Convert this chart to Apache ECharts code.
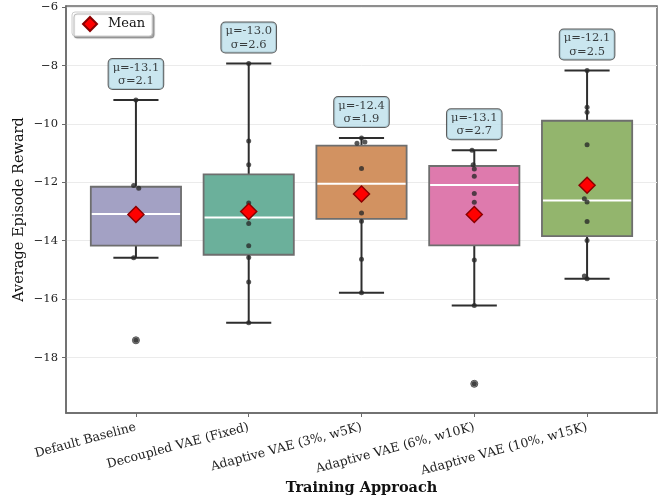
<!DOCTYPE html>
<html>
<head>
<meta charset="utf-8">
<script src="https://cdn.jsdelivr.net/npm/echarts@6/dist/echarts.min.js"></script>
<style>
  html, body { margin: 0; padding: 0; background: #ffffff; }
  #chart { width: 665px; height: 501px; }
</style>
</head>
<body>
<div id="chart"></div>
<script>
// Training approaches compared
const categories = [
  'Default Baseline',
  'Decoupled VAE (Fixed)',
  'Adaptive VAE (3%, w5K)',
  'Adaptive VAE (6%, w10K)',
  'Adaptive VAE (10%, w15K)'
];

// Box statistics per approach
const whiskerLow  = [-14.58, -16.81, -15.78, -16.22, -15.30];
const quartile1   = [-14.17, -14.48, -13.25, -14.16, -13.84];
const medians     = [-13.08, -13.20, -12.05, -12.09, -12.62];
const quartile3   = [-12.15, -11.73, -10.74, -11.44, -9.89];
const whiskerHigh = [-9.18, -7.93, -10.48, -10.90, -8.17];

// Mean / std summary per approach
const means = [-13.1, -13.0, -12.4, -13.1, -12.1];
const stds  = [2.1, 2.6, 1.9, 2.7, 2.5];

// Outliers beyond the whiskers: [approach index, reward]
const outliers = [[0, -17.41], [3, -18.90]];

// Individual run rewards per approach
const runsBaseline  = [-9.18, -12.11, -12.20, -14.58, -17.41];
const runsDecoupled = [-7.93, -10.58, -11.40, -12.71, -13.41, -14.17, -14.57, -15.41, -16.81];
const runsAdapt3    = [-10.48, -10.66, -10.62, -11.53, -13.05, -13.33, -14.63, -15.78];
const runsAdapt6    = [-10.90, -11.40, -11.54, -11.79, -12.38, -12.68, -14.66, -16.22, -18.90];
const runsAdapt10   = [-8.17, -9.43, -9.60, -10.71, -12.56, -12.67, -13.34, -13.99, -15.21, -15.30];
const runs = [runsBaseline, runsDecoupled, runsAdapt3, runsAdapt6, runsAdapt10];

// Horizontal strip jitter (category units), parallel to the run arrays
const jitter = [
  [0, -0.02, 0.025, -0.02, 0],
  [0, 0, 0, 0, 0, 0, 0, 0, 0],
  [0, -0.04, 0.03, 0, 0, 0, 0, 0],
  [-0.02, -0.01, 0, 0, 0, 0, 0, 0, 0],
  [0, 0, 0, 0, -0.024, 0, 0, 0, -0.024, 0]
];

// Y-axis tick values
const yTicks = [-18, -16, -14, -12, -10, -8, -6];

const boxColors = ['#a3a1c4', '#6bb09b', '#d29261', '#de7aad', '#93b56d'];
const FONT = 'DejaVu Serif';
const catIdx = categories.map((_, i) => i);

const boxData = categories.map((_, i) =>
  [i, whiskerLow[i], quartile1[i], medians[i], quartile3[i], whiskerHigh[i]]);

const stripData = [];
runs.forEach((arr, i) => arr.forEach((v, k) => stripData.push([i + jitter[i][k], v])));

const fmtMinus = v => (v < 0 ? '\u2212' + Math.abs(v) : String(v));

const chart = echarts.init(document.getElementById('chart'), null, { renderer: 'canvas' });

chart.setOption({
  animation: false,
  backgroundColor: '#ffffff',
  textStyle: { fontFamily: FONT },
  grid: {
    left: 66, right: 8, top: 6, bottom: 87,
    show: true, borderColor: '#6a6a6a', borderWidth: 1.5, backgroundColor: 'transparent'
  },
  legend: {
    left: 72, top: 12,
    padding: [4, 7, 4, 10],
    backgroundColor: '#ffffff',
    borderColor: '#cccccc', borderWidth: 1, borderRadius: 3,
    shadowColor: 'rgba(0,0,0,0.35)', shadowOffsetX: 2, shadowOffsetY: 2, shadowBlur: 1,
    itemWidth: 14, itemHeight: 14,
    textStyle: { fontFamily: FONT, fontSize: 13, color: '#111', padding: [0, 0, 0, 6] },
    data: [{ name: 'Mean', icon: 'diamond' }]
  },
  xAxis: {
    type: 'value',
    min: -0.62, max: 4.62,
    name: 'Training Approach',
    nameLocation: 'middle',
    nameGap: 68,
    nameMoveOverlap: false,
    nameTextStyle: { fontFamily: FONT, fontSize: 14.5, fontWeight: 'bold', color: '#111' },
    axisLine: { show: true, onZero: false, lineStyle: { color: '#6a6a6a', width: 1.5 } },
    axisTick: { show: true, length: 4, customValues: catIdx, lineStyle: { color: '#6a6a6a' } },
    axisLabel: {
      customValues: catIdx,
      rotate: 15,
      margin: 14,
      fontFamily: FONT, fontSize: 12.5, color: '#222',
      formatter: v => categories[Math.round(v)]
    },
    splitLine: { show: false }
  },
  yAxis: {
    type: 'value',
    min: -19.9, max: -5.96,
    name: 'Average Episode Reward',
    nameLocation: 'middle',
    nameGap: 39,
    nameMoveOverlap: false,
    nameTextStyle: { fontFamily: FONT, fontSize: 14.5, color: '#111' },
    axisLine: { show: true, onZero: false, lineStyle: { color: '#6a6a6a', width: 1.5 } },
    axisTick: { show: true, length: 4, customValues: yTicks, lineStyle: { color: '#6a6a6a' } },
    axisLabel: {
      customValues: yTicks,
      margin: 8,
      fontFamily: FONT, fontSize: 11.5, color: '#222',
      formatter: fmtMinus
    },
    splitLine: { show: true, lineStyle: { color: '#ebebeb', width: 1 } }
  },
  series: [
    {
      // Box, whiskers, caps and median for each approach
      type: 'custom',
      z: 2,
      data: boxData,
      encode: { x: 0, y: [1, 2, 3, 4, 5] },
      renderItem: (params, api) => {
        const x = api.value(0);
        const lo = api.coord([x, api.value(1)]);
        const b1 = api.coord([x, api.value(2)]);
        const md = api.coord([x, api.value(3)]);
        const b3 = api.coord([x, api.value(4)]);
        const hi = api.coord([x, api.value(5)]);
        const half = api.size([0.4, 0])[0];
        const cap = api.size([0.2, 0])[0];
        const cx = lo[0];
        const wStyle = { stroke: '#2e2e2e', lineWidth: 2 };
        return {
          type: 'group',
          children: [
            { type: 'line', shape: { x1: cx, y1: hi[1], x2: cx, y2: b3[1] }, style: wStyle },
            { type: 'line', shape: { x1: cx, y1: b1[1], x2: cx, y2: lo[1] }, style: wStyle },
            { type: 'line', shape: { x1: cx - cap, y1: hi[1], x2: cx + cap, y2: hi[1] }, style: wStyle },
            { type: 'line', shape: { x1: cx - cap, y1: lo[1], x2: cx + cap, y2: lo[1] }, style: wStyle },
            {
              type: 'rect',
              shape: { x: cx - half, y: b3[1], width: half * 2, height: b1[1] - b3[1] },
              style: { fill: boxColors[params.dataIndex], stroke: '#6e6e6e', lineWidth: 1.8 }
            },
            {
              type: 'line',
              shape: { x1: cx - half + 1, y1: md[1], x2: cx + half - 1, y2: md[1] },
              style: { stroke: '#ffffff', lineWidth: 2 }
            }
          ]
        };
      }
    },
    {
      // Flier markers
      type: 'scatter',
      z: 3,
      data: outliers,
      symbol: 'circle',
      symbolSize: 7,
      itemStyle: { color: '#9a9a9a', borderColor: '#555555', borderWidth: 1, opacity: 1 },
      silent: true
    },
    {
      // Individual runs
      type: 'scatter',
      z: 4,
      data: stripData,
      symbol: 'circle',
      symbolSize: 5,
      itemStyle: { color: 'rgba(40,40,40,0.78)', opacity: 1 },
      silent: true
    },
    {
      name: 'Mean',
      type: 'scatter',
      z: 5,
      data: categories.map((_, i) => [i, means[i]]),
      symbol: 'diamond',
      symbolSize: 16,
      itemStyle: { color: '#ff0000', borderColor: '#8b0000', borderWidth: 1.5, opacity: 1 }
    },
    {
      // Mean / std annotation above each upper whisker
      type: 'scatter',
      z: 6,
      data: categories.map((_, i) => [i, whiskerHigh[i]]),
      symbolSize: 0,
      silent: true,
      label: {
        show: true,
        position: 'top',
        distance: 11,
        formatter: p => {
          const i = p.dataIndex;
          return '\u03bc=' + means[i].toFixed(1) + '\n\u03c3=' + stds[i].toFixed(1);
        },
        fontFamily: FONT, fontSize: 11.5, color: '#111',
        lineHeight: 13.5,
        align: 'center',
        backgroundColor: '#bde0eb',
        borderColor: '#333333', borderWidth: 1, borderRadius: 4,
        padding: [2, 4, 1, 4]
      }
    }
  ]
});
</script>
</body>
</html>
